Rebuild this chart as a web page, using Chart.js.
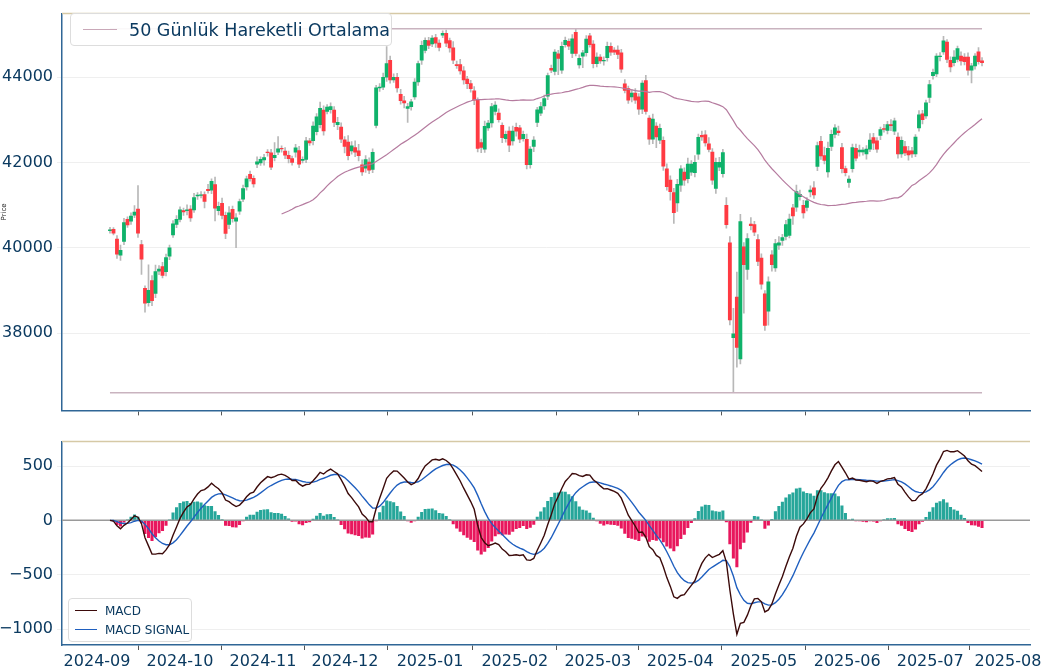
<!DOCTYPE html>
<html><head><meta charset="utf-8">
<script src="https://cdn.jsdelivr.net/npm/chart.js@4.4.0/dist/chart.umd.min.js"></script>
<style>
body{margin:0;background:#fff;width:1050px;height:667px;position:relative;overflow:hidden;font-family:"DejaVu Sans",sans-serif}
#w1{position:absolute;left:0;top:0;width:1050px;height:424px}
#w2{position:absolute;left:0;top:428px;width:1050px;height:239px}
.lg{position:absolute;background:rgba(255,255,255,.9);border:1px solid #ddd;border-radius:4px;color:#0b3a60;white-space:nowrap}
.row{display:flex;align-items:center}
.sw{display:inline-block;height:0;border-top:1.5px solid;flex-shrink:0}
</style></head><body>
<div id="w1"><canvas id="c1"></canvas></div>
<div id="w2"><canvas id="c2"></canvas></div>
<div class="lg" style="left:70px;top:13px;width:320px;height:31px;font-size:17.5px">
 <div class="row" style="height:31px;padding-left:12px"><span class="sw" style="width:34px;border-color:#c9a8b8;margin-right:12px"></span>50 Günlük Hareketli Ortalama</div></div>
<div class="lg" style="left:68px;top:598px;width:122px;height:42px;font-size:12px">
 <div class="row" style="height:19px;margin-top:2px;padding-left:6px"><span class="sw" style="width:22px;border-color:#3b0a0a;margin-right:8px"></span>MACD</div>
 <div class="row" style="height:19px;padding-left:6px"><span class="sw" style="width:22px;border-color:#1f5fbf;margin-right:8px"></span>MACD SIGNAL</div></div>
<script>
const O=[40400,40435,40206,39825,40150,40665,40626,40765,40909,40077,39047,38710,39230,38930,39450,39560,39440,39800,40300,40550,40665,40870,40870,40910,40890,41215,41230,41250,41370,41350,41480,40870,41045,40760,40550,40900,40625,40860,41140,41430,41720,41630,41960,41990,42060,42245,42230,42115,42245,42330,42270,42170,42090,42245,42280,42050,42075,42510,42510,42725,
42890,43230,43200,43240,43230,42890,42830,42530,42480,42275,42350,42275,41945,41870,42010,41840,42870,43750,43770,44000,44400,43940,44000,43600,43450,43270,43310,43540,43890,44400,44630,44860,44780,44930,44800,44990,45030,44860,44690,44300,44300,44150,43960,43850,43680,43460,
42468,42315,42813,42928,43196,43157,42874,42560,42736,42506,42828,42813,42560,42545,41947,42376,42943,43157,43326,43556,44207,44138,44552,44169,44766,44843,44559,45057,44291,44498,44575,44973,44781,44322,44475,44383,44459,44728,44636,44636,44575,43847,43732,43540,43632,43540,43249,43923,43042,42545,
42857,42522,42522,41851,41585,41295,41051,41470,41775,41623,41775,41760,42194,42636,42651,42438,42247,41394,41889,41737,40998,40114,37889,38841,37394,40023,39489,40556,40541,40190,39756,38917,38514,39832,39527,40061,40175,40266,40289,40937,40952,
41199,40993,40947,41313,41405,41908,42496,
42162,41779,42376,42660,42736,42353,41855,41533,41855,42330,42250,42250,42200,42315,42583,42506,42637,42797,42751,42889,42736,42598,42200,42376,42277,42277,42200,42813,43142,43096,43525,44038,44077,44483,44597,44827,44398,44345,44421,44498,44475,44475,44169,44268,44597,44383];
const C=[40420,40344,39850,39940,40589,40535,40741,40840,40344,39734,38700,39000,38760,39443,39500,39350,39770,40000,40560,40665,40890,40840,40890,40700,41175,41237,41240,41085,41340,41560,40930,40970,40756,40335,40817,40680,40700,41085,41390,41620,41620,41500,42015,42075,42115,42230,41890,42170,42320,42320,42170,42090,42000,42345,41960,42075,42510,42460,42855,43070,
43270,42740,43300,43310,42940,42940,42545,42375,42160,42390,42240,42160,41780,42070,41820,42240,43750,43770,44000,44320,43940,44000,43750,43450,43400,43310,43425,43890,44320,44750,44865,44750,44920,44800,44700,45030,44800,44690,44400,44270,44150,43940,43850,43730,43460,42330,
42353,42851,42928,43311,43349,43004,42583,42660,42407,42736,42736,42545,42660,41947,42315,42529,43234,43311,43502,44038,44169,44590,44444,44728,44866,44728,44904,44559,44444,44575,44896,44766,44322,44475,44383,44398,44728,44590,44590,44536,44191,43694,43464,43632,43464,43249,43862,43196,42545,43019,
42598,42804,41912,41432,41318,40822,41486,41851,41585,41965,41965,42004,42590,42598,42461,42308,41585,42004,42004,42232,40540,38308,37980,37660,40617,39603,40213,40518,40365,39679,39146,38178,39200,39603,40099,40114,40236,40541,40670,40746,41318,
41252,40817,41100,41351,41237,42397,42153,
42047,42330,42660,42813,42698,41855,41763,41610,42353,42100,42290,42290,42315,42529,42453,42315,42774,42774,42889,42866,42981,42200,42522,42223,42177,42200,42598,43119,43004,43403,43831,44115,44498,44498,44858,44421,44245,44475,44674,44383,44368,44169,44268,44498,44368,44345];
const WU=[60,40,80,120,100,60,80,150,550,100,60,600,120,150,80,100,80,60,80,90,70,60,120,80,100,60,80,60,120,60,180,100,120,80,150,80,100,60,80,60,80,60,120,60,80,60,80,300,290,60,80,100,60,80,100,60,80,60,100,80,
150,100,60,90,80,120,100,80,150,100,160,150,120,90,100,80,60,80,100,400,100,80,90,120,100,80,60,80,60,100,60,80,60,80,80,60,80,60,150,80,120,100,60,80,100,60,80,120,60,80,
80,100,60,80,100,120,100,60,80,120,60,80,60,100,80,60,80,60,80,100,80,60,100,80,80,60,80,60,80,100,60,80,100,80,60,100,80,100,60,80,100,80,60,120,60,120,80,100,80,120,
100,100,120,80,100,140,80,160,80,100,100,150,80,100,120,80,180,150,600,590,170,100,120,150,80,120,100,80,120,100,100,150,80,100,120,80,150,100,120,80,100,150,80,120,200,150,100,80,120,100,
60,80,80,100,120,60,80,150,100,80,60,100,80,120,60,100,80,120,100,80,60,100,80,60,100,80,60,80,100,60,80,150,60,100,80,100,60,60,100,80];
const WD=[60,40,100,120,80,60,80,60,100,360,210,80,120,100,80,60,100,80,60,80,60,80,100,80,60,80,60,150,60,80,300,100,80,120,100,80,625,80,60,80,60,80,80,60,120,80,60,80,60,80,80,100,60,120,80,60,80,60,100,80,
80,100,60,80,100,120,80,150,100,80,100,120,80,100,80,80,60,80,60,100,80,60,100,80,120,330,80,60,80,100,60,80,60,100,80,60,80,100,80,60,80,100,120,80,100,80,120,80,60,100,
80,60,120,80,150,100,120,80,60,100,80,120,100,60,80,80,60,80,380,80,60,80,100,60,80,270,80,60,100,80,60,100,80,80,60,100,80,60,80,120,80,120,100,60,120,100,250,80,100,80,
200,250,200,150,120,100,80,100,120,80,80,60,100,120,80,80,80,120,1289,460,120,1140,230,100,80,100,120,120,330,150,80,100,120,80,60,200,100,80,120,80,120,80,100,80,80,120,100,80,60,100,
80,120,80,60,100,80,120,60,150,80,100,60,80,120,80,100,80,60,120,80,60,80,100,60,120,80,60,100,60,80,120,80,60,100,80,120,300,80,60,80];
const TICK_IDX=[-3.7,20.0,43.7,67.1,91.4,115.6,139.3,162.8,186.7,210.5,234.2,256.4];
const TICK_LBL=['2024-09','2024-10','2024-11','2024-12','2025-01','2025-02','2025-03','2025-04','2025-05','2025-06','2025-07','2025-08'];
const PRICE_TICKS=[38000,40000,42000,44000];
const MACD_TICKS=[-1000,-500,0,500];

const N=C.length;
const H=C.map((c,i)=>Math.max(O[i],c)+WU[i]);
const L=C.map((c,i)=>Math.min(O[i],c)-WD[i]);
function ema(a,p){const k=2/(p+1);const r=[];a.forEach((v,i)=>r.push(i?v*k+r[i-1]*(1-k):v));return r;}
const e12=ema(C,12),e26=ema(C,26);
const MACD=e12.map((v,i)=>v-e26[i]);
const SIG=ema(MACD,9);
const HIST=MACD.map((v,i)=>v-SIG[i]);
const MA=C.map((v,i)=>i<49?null:C.slice(i-49,i+1).reduce((a,b)=>a+b,0)/50);
const hiMax=Math.max(...H),loMin=Math.min(...L);

const GREEN='#0fb26a',RED='#ff3a42',NAVY='#0b3a60';
const font={family:'DejaVu Sans',size:16};
const fmt=v=>v<0?'\u2212'+Math.abs(v):String(v);
const borderPlug={id:'bp',afterDraw(ch){const a=ch.chartArea,x=ch.ctx;x.save();x.lineWidth=1.5;x.strokeStyle='#d6c9a6';x.beginPath();x.moveTo(a.left,a.top);x.lineTo(a.right,a.top);x.stroke();x.restore();}};
const xCommon=(show)=>({type:'linear',min:-13.7,max:262.7,offset:false,
  afterBuildTicks(ax){ax.ticks=TICK_IDX.map(v=>({value:v}));},
  ticks:{display:show,autoSkip:false,maxRotation:0,color:NAVY,font,callback:(v,i)=>TICK_LBL[i],padding:2},
  grid:{drawOnChartArea:false,tickLength:5,color:'#555'},
  border:{color:'#2f6696',width:1.5}});
const yCommon=(min,max,tk)=>({min,max,afterBuildTicks(ax){ax.ticks=tk.map(v=>({value:v}));},
  afterFit(ax){ax.width=62;},
  ticks:{color:NAVY,font,padding:4,callback:fmt},grid:{color:'#efefef',tickLength:5},border:{color:'#2f6696',width:1.5}});

new Chart(document.getElementById('c1'),{type:'bar',
 data:{datasets:[
  {type:'line',order:0,data:[{x:0,y:hiMax},{x:N-1,y:hiMax}],borderColor:'#c9b3bf',borderWidth:1.5,pointRadius:0},
  {type:'line',order:0,data:[{x:0,y:loMin},{x:N-1,y:loMin}],borderColor:'#c9b3bf',borderWidth:1.5,pointRadius:0},
  {type:'line',order:0,data:MA.map((v,i)=>({x:i,y:v})),borderColor:'#b57b9f',borderWidth:1.2,pointRadius:0,spanGaps:false},
  {order:3,data:C.map((c,i)=>({x:i,y:[L[i],H[i]]})),backgroundColor:'#b8b8b8',barThickness:1,grouped:false},
  {order:2,data:C.map((c,i)=>({x:i,y:[O[i],c===O[i]?c+15:c]})),backgroundColor:C.map((c,i)=>c>=O[i]?GREEN:RED),barThickness:3.2,grouped:false}
 ]},
 options:{responsive:true,maintainAspectRatio:false,animation:false,
  layout:{padding:{top:5,right:20,bottom:0,left:0}},
  plugins:{legend:{display:false},tooltip:{enabled:false}},
  scales:{x:{...xCommon(false),afterFit(ax){ax.height=10;}},
   y:{...yCommon(36184,45494,PRICE_TICKS),title:{display:true,text:'Price',font:{family:'DejaVu Sans',size:7},color:'#222',padding:0}}}},
 plugins:[borderPlug]});

new Chart(document.getElementById('c2'),{type:'bar',
 data:{datasets:[
  {type:'line',order:1,data:[{x:-13.7,y:0},{x:262.7,y:0}],borderColor:'#9a9a9a',borderWidth:1.5,pointRadius:0},
  {type:'line',order:0,data:MACD.map((v,i)=>({x:i,y:v})),borderColor:'#3b0a0a',borderWidth:1.4,pointRadius:0},
  {type:'line',order:0,data:SIG.map((v,i)=>({x:i,y:v})),borderColor:'#1f5fbf',borderWidth:1.4,pointRadius:0},
  {order:2,data:HIST.map((v,i)=>({x:i,y:v})),backgroundColor:HIST.map(v=>v>=0?'#26a69a':'#e8175d'),barThickness:2.4}
 ]},
 options:{responsive:true,maintainAspectRatio:false,animation:false,
  layout:{padding:{top:5,right:20,bottom:0,left:0}},
  plugins:{legend:{display:false},tooltip:{enabled:false}},
  scales:{x:{...xCommon(true),afterFit(ax){ax.height=22;}},y:yCommon(-1147,725,MACD_TICKS)}},
 plugins:[borderPlug]});
</script></body></html>
